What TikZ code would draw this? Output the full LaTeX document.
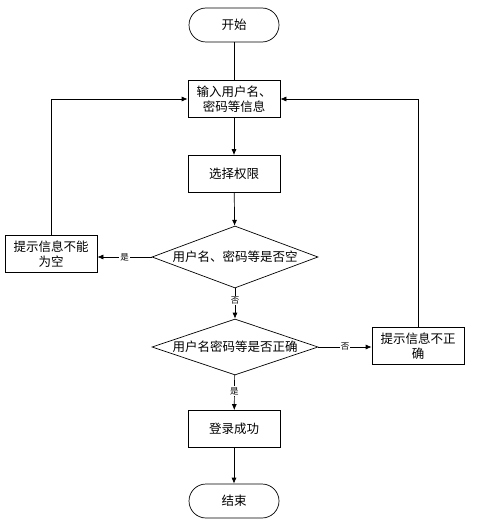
\documentclass[tikz,border=0pt]{standalone}
\usepackage{fontspec}
\newfontfamily\cjk{Noto Sans CJK SC}
\usetikzlibrary{shapes.geometric,arrows.meta}

\begin{document}
\begin{tikzpicture}[x=1pt,y=-1pt, line width=0.7pt,
  box/.style={draw, minimum width=92pt, minimum height=37pt, inner sep=1pt, align=center, font=\cjk\fontsize{12.5}{15}\selectfont},
  term/.style={draw, rounded corners=17pt, minimum width=90pt, minimum height=34pt, font=\cjk\fontsize{12.5}{15}\selectfont},
  dec/.style={draw, diamond, inner sep=0pt, minimum width=166pt, font=\cjk\fontsize{12.5}{15}\selectfont},
  lbl/.style={fill=white, inner sep=1pt, font=\cjk\fontsize{8.5}{9}\selectfont},
  arr/.style={-{Latex[length=6pt,width=5pt]}}]
 \useasboundingbox (0,0) rectangle (480,524);
 % nodes
 \node[term] (start) at (234,25) {开始};
 \node[box] (input) at (234,99) {输入用户名、\\密码等信息};
 \node[box] (perm) at (234,174) {选择权限};
 \node[dec, minimum height=62pt, aspect=2.68] (empty) at (235,257) {用户名、密码等是否空};
 \node[box] (warnempty) at (51,254) {提示信息不能\\为空};
 \node[dec, minimum height=56pt, aspect=2.96] (check) at (235,347) {用户名密码等是否正确};
 \node[box] (warnwrong) at (418,346) {提示信息不正\\确};
 \node[box] (ok) at (234,429) {登录成功};
 \node[term] (stop) at (234,501) {结束};
 % connectors
 \draw (start) -- (input);
 \draw[arr] (input) -- (perm);
 \draw[arr] (perm) -- (empty);
 \draw[arr] (empty.west) -- node[lbl] {是} (warnempty.east |- empty.west);
 \draw[arr] (empty) -- node[lbl, pos=0.4] {否} (check);
 \draw[arr] (check.east) -- node[lbl] {否} (warnwrong.west |- check.east);
 \draw[arr] (check) -- node[lbl, pos=0.45] {是} (ok);
 \draw[arr] (ok) -- (stop);
 \draw[arr] (warnempty.north) |- (input.west);
 \draw[arr] (warnwrong.north) |- (input.east);
\end{tikzpicture}
\end{document}
